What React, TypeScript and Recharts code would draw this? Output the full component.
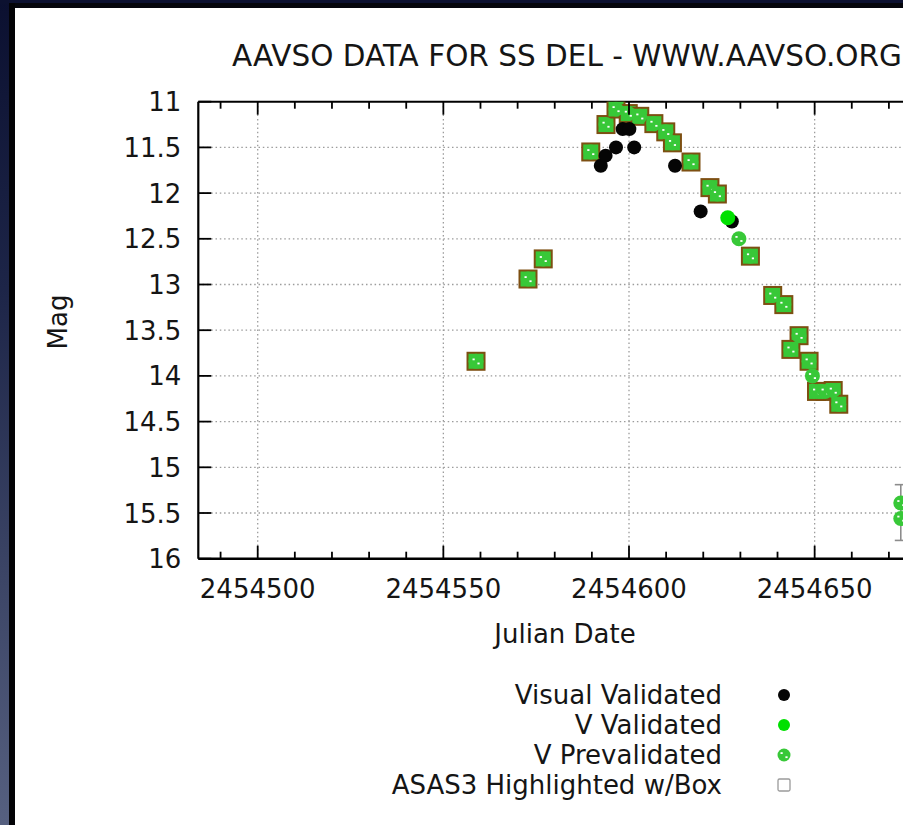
import React from 'react';
import { ScatterChart, Scatter, XAxis, YAxis, CartesianGrid, ErrorBar } from 'recharts';

const FONT = '"DejaVu Sans", "Liberation Sans", Arial, sans-serif';

// Axis ranges and ticks
const xDomain = [2454484, 2454716];
const yDomain = [11, 16];
const xTicks = [
  2454490, 2454500, 2454510, 2454520, 2454530, 2454540, 2454550, 2454560,
  2454570, 2454580, 2454590, 2454600, 2454610, 2454620, 2454630, 2454640,
  2454650, 2454660, 2454670, 2454680, 2454690, 2454700, 2454710,
];
const xMajorTicks = [2454500, 2454550, 2454600, 2454650, 2454700];
const xTickLabels = ['2454500', '2454550', '2454600', '2454650'];
const yTicks = [11, 11.5, 12, 12.5, 13, 13.5, 14, 14.5, 15, 15.5, 16];
const gridY = [11.5, 12, 12.5, 13, 13.5, 14, 14.5, 15, 15.5];

// Observations (Julian Date, magnitude)
const visualValidated = [
  { jd: 2454592.4, mag: 11.7 },
  { jd: 2454593.7, mag: 11.59 },
  { jd: 2454596.5, mag: 11.5 },
  { jd: 2454598.3, mag: 11.3 },
  { jd: 2454600.1, mag: 11.3 },
  { jd: 2454601.4, mag: 11.5 },
  { jd: 2454612.4, mag: 11.7 },
  { jd: 2454619.3, mag: 12.2 },
  { jd: 2454627.7, mag: 12.31 },
];

const vValidated = [{ jd: 2454626.6, mag: 12.27 }];

const asas3Highlighted = [
  { jd: 2454558.8, mag: 13.84 },
  { jd: 2454572.8, mag: 12.94 },
  { jd: 2454576.9, mag: 12.72 },
  { jd: 2454589.7, mag: 11.55 },
  { jd: 2454593.8, mag: 11.25 },
  { jd: 2454596.5, mag: 11.08 },
  { jd: 2454599.8, mag: 11.13 },
  { jd: 2454602.9, mag: 11.16 },
  { jd: 2454606.7, mag: 11.24 },
  { jd: 2454609.9, mag: 11.33 },
  { jd: 2454611.7, mag: 11.45 },
  { jd: 2454616.7, mag: 11.66 },
  { jd: 2454621.8, mag: 11.94 },
  { jd: 2454623.8, mag: 12.01 },
  { jd: 2454632.7, mag: 12.69 },
  { jd: 2454638.7, mag: 13.12 },
  { jd: 2454641.7, mag: 13.22 },
  { jd: 2454645.8, mag: 13.56 },
  { jd: 2454643.6, mag: 13.71 },
  { jd: 2454648.5, mag: 13.84 },
  { jd: 2454650.5, mag: 14.17 },
  { jd: 2454652.8, mag: 14.17 },
  { jd: 2454655.0, mag: 14.16 },
  { jd: 2454656.5, mag: 14.31 },
];

const vPrevalidated = [
  ...asas3Highlighted,
  { jd: 2454629.6, mag: 12.5 },
  { jd: 2454649.4, mag: 14.0 },
  { jd: 2454673.2, mag: 15.39 },
];

// Prevalidated observation carrying an uncertainty range [up, down] in magnitudes
const vPrevalidatedWithError = [{ jd: 2454673.2, mag: 15.56, err: [0.37, 0.24] }];

const COLORS = {
  visual: '#050505',
  valid: '#00e000',
  preval: '#38c838',
  box: '#7d4f12',
  legendBox: '#9a9a9a',
  grid: '#9c9c9c',
  text: '#151515',
};

// Marker drawings shared by the plot and the legend
const drawVisual = (cx: number, cy: number, r = 7) => (
  <circle cx={cx} cy={cy} r={r} fill={COLORS.visual} />
);
const drawValid = (cx: number, cy: number, r = 7.5) => (
  <circle cx={cx} cy={cy} r={r} fill={COLORS.valid} />
);
const drawPreval = (cx: number, cy: number, r = 7.5) => (
  <g>
    <circle cx={cx} cy={cy} r={r} fill={COLORS.preval} />
    <rect x={cx - 3.5} y={cy - 2.8} width={2.2} height={1.8} fill="#ffffff" />
    <rect x={cx + 1.4} y={cy + 1.3} width={2.2} height={1.8} fill="#ffffff" />
  </g>
);
const drawBox = (cx: number, cy: number) => (
  <rect x={cx - 8.5} y={cy - 8.5} width={17} height={17} fill={COLORS.preval} stroke={COLORS.box} strokeWidth={2} />
);
const drawLegendBox = (cx: number, cy: number) => (
  <rect x={cx - 6} y={cy - 6} width={12} height={12} rx={1.5} fill="#ffffff" stroke={COLORS.legendBox} strokeWidth={1.3} />
);

const legendItems = [
  { name: 'Visual Validated', draw: (cx: number, cy: number) => drawVisual(cx, cy, 6) },
  { name: 'V Validated', draw: (cx: number, cy: number) => drawValid(cx, cy, 6) },
  { name: 'V Prevalidated', draw: (cx: number, cy: number) => drawPreval(cx, cy, 6.5) },
  { name: 'ASAS3 Highlighted w/Box', draw: drawLegendBox },
];

const BottomTick = (props: any) => {
  const { x, y, payload } = props;
  const v = Math.round(payload.value);
  const major = xMajorTicks.includes(v);
  const label = xTickLabels.includes(String(v));
  return (
    <g>
      <line x1={x} x2={x} y1={y} y2={y - (major ? 13 : 7)} stroke="#000" strokeWidth={1.8} />
      {label && (
        <text x={x} y={y + 39} textAnchor="middle" fontSize={26} fontFamily={FONT} fill={COLORS.text}>
          {v}
        </text>
      )}
    </g>
  );
};

const TopTick = (props: any) => {
  const { x, y, payload } = props;
  const v = Math.round(payload.value);
  const major = xMajorTicks.includes(v);
  return <line x1={x} x2={x} y1={y} y2={y + (major ? 13 : 7)} stroke="#000" strokeWidth={1.8} />;
};

const LeftTick = (props: any) => {
  const { x, y, payload } = props;
  return (
    <g>
      <line x1={x} x2={x + 13} y1={y} y2={y} stroke="#000" strokeWidth={1.8} />
      <text x={x - 17} y={y + 9.5} textAnchor="end" fontSize={26} fontFamily={FONT} fill={COLORS.text}>
        {payload.value}
      </text>
    </g>
  );
};

export default function App() {
  return (
    <div
      style={{
        position: 'absolute',
        left: 0,
        top: 0,
        width: 918,
        height: 825,
        background: '#ffffff',
        overflow: 'hidden',
      }}
    >
      <div style={{ position: 'absolute', left: 0, top: 0, width: 903, height: 825, overflow: 'hidden' }}>
        {/* window frame */}
        <div
          style={{
            position: 'absolute',
            left: 0,
            top: 0,
            width: 10,
            height: 825,
            background: 'linear-gradient(#0b1030 0%, #1d2548 35%, #3c4566 70%, #566080 100%)',
          }}
        />
        <div style={{ position: 'absolute', left: 0, top: 0, width: 903, height: 4, background: '#0c1130' }} />
        <div style={{ position: 'absolute', left: 9, top: 3, width: 894, height: 5, background: '#05060c' }} />
        <div style={{ position: 'absolute', left: 9, top: 3, width: 6, height: 822, background: '#030306' }} />

        <div style={{ position: 'absolute', left: 0, top: 0 }}>
          <ScatterChart width={1100} height={825} margin={{ top: 71.7, right: 40.3, bottom: 236.3, left: 138.3 }}>
            <CartesianGrid
              verticalValues={xMajorTicks}
              horizontalValues={gridY}
              stroke={COLORS.grid}
              strokeDasharray="1.5 2.8"
              strokeWidth={1.3}
            />
            <XAxis
              type="number"
              dataKey="jd"
              domain={xDomain}
              ticks={xTicks}
              interval={0}
              allowDataOverflow
              height={30}
              tickSize={0}
              tickMargin={0}
              tickLine={false}
              tick={BottomTick}
              axisLine={{ stroke: '#000', strokeWidth: 2.5 }}
            />
            <XAxis
              xAxisId="top"
              orientation="top"
              type="number"
              dataKey="jd"
              domain={xDomain}
              ticks={xTicks}
              interval={0}
              allowDataOverflow
              height={30}
              tickSize={0}
              tickMargin={0}
              tickLine={false}
              tick={TopTick}
              axisLine={{ stroke: '#000', strokeWidth: 2 }}
            />
            <YAxis
              type="number"
              dataKey="mag"
              domain={yDomain}
              reversed
              ticks={yTicks}
              interval={0}
              allowDataOverflow
              width={60}
              tickSize={0}
              tickMargin={0}
              tickLine={false}
              tick={LeftTick}
              axisLine={{ stroke: '#000', strokeWidth: 2.2 }}
            />
            <Scatter
              name="ASAS3 Highlighted w/Box"
              data={asas3Highlighted}
              isAnimationActive={false}
              shape={(p: any) => drawBox(p.cx, p.cy)}
            />
            <Scatter
              name="V Prevalidated"
              data={vPrevalidatedWithError}
              isAnimationActive={false}
              shape={(p: any) => drawPreval(p.cx, p.cy)}
            >
              <ErrorBar dataKey="err" direction="y" stroke="#8c8c8c" strokeWidth={1.6} width={6} />
            </Scatter>
            <Scatter
              name="V Prevalidated"
              data={vPrevalidated}
              isAnimationActive={false}
              shape={(p: any) => drawPreval(p.cx, p.cy)}
            />
            <Scatter
              name="Visual Validated"
              data={visualValidated}
              isAnimationActive={false}
              shape={(p: any) => drawVisual(p.cx, p.cy)}
            />
            <Scatter
              name="V Validated"
              data={vValidated}
              isAnimationActive={false}
              shape={(p: any) => drawValid(p.cx, p.cy)}
            />
          </ScatterChart>
        </div>

        {/* titles and key */}
        <svg
          width={903}
          height={825}
          style={{ position: 'absolute', left: 0, top: 0, pointerEvents: 'none' }}
          fontFamily={FONT}
          fill={COLORS.text}
        >
          <text x={232} y={66} fontSize={29.5}>
            AAVSO DATA FOR SS DEL - WWW.AAVSO.ORG
          </text>
          <text x={565} y={643} fontSize={26} textAnchor="middle">
            Julian Date
          </text>
          <text x={66.5} y={322} fontSize={26} textAnchor="middle" transform="rotate(-90 66.5 322)">
            Mag
          </text>
          {legendItems.map((item, i) => (
            <g key={item.name}>
              <text x={722} y={703.5 + i * 30} fontSize={26} textAnchor="end">
                {item.name}
              </text>
              {item.draw(784, 695 + i * 30)}
            </g>
          ))}
        </svg>
      </div>
    </div>
  );
}
